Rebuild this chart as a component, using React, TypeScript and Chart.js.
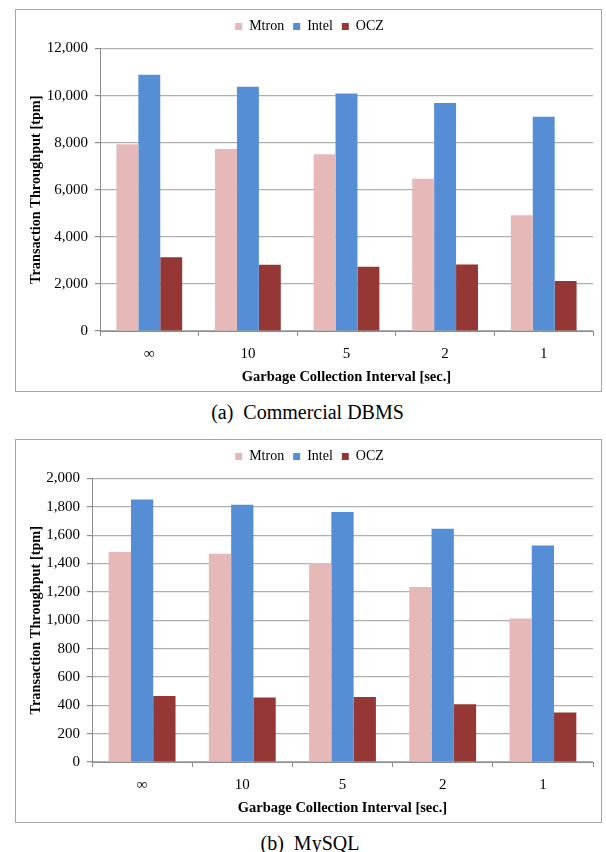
import React, { useEffect, useRef } from 'react';
import { Chart, registerables } from 'chart.js';

Chart.register(...registerables);

const FONT = '"Liberation Serif", "Times New Roman", serif';

const categories = ['∞', '10', '5', '2', '1'];
const seriesNames = ['Mtron', 'Intel', 'OCZ'];
const seriesColors = ['#E6B9B8', '#558ED5', '#953735'];

// (a) Commercial DBMS
const dbmsMtron = [7930, 7735, 7510, 6470, 4920];
const dbmsIntel = [10885, 10380, 10085, 9690, 9100];
const dbmsOcz = [3135, 2815, 2730, 2830, 2125];
const dbmsYMax = 12000;
const dbmsYStep = 2000;

// (b) MySQL
const mysqlMtron = [1481, 1469, 1404, 1235, 1012];
const mysqlIntel = [1852, 1815, 1763, 1645, 1528];
const mysqlOcz = [465, 455, 458, 408, 350];
const mysqlYMax = 2000;
const mysqlYStep = 200;

const xTitle = 'Garbage Collection Interval [sec.]';
const yTitle = 'Transaction Throughput [tpm]';

// adds a little space between the legend and the plot area, and nudges it right
const legendGap = {
  id: 'legendGap',
  beforeLayout(chart: any) {
    const lg = chart.legend;
    if (lg && !lg._gapPatched) {
      const origFit = lg.fit.bind(lg);
      lg.fit = function () {
        origFit();
        this.height += 5;
      };
      const origDraw = lg.draw.bind(lg);
      lg.draw = function () {
        const ctx = this.ctx;
        ctx.save();
        ctx.translate(5, 0);
        origDraw();
        ctx.restore();
      };
      lg._gapPatched = true;
    }
  },
};

type Props = {
  series: number[][];
  yMax: number;
  yStep: number;
  yWidth: number;
  width: number;
  height: number;
};

function BarChart({ series, yMax, yStep, yWidth, width, height }: Props) {
  const ref = useRef<HTMLCanvasElement | null>(null);
  useEffect(() => {
    if (!ref.current) return;
    const chart = new Chart(ref.current, {
      type: 'bar',
      data: {
        labels: categories,
        datasets: seriesNames.map((name, i) => ({
          label: name,
          data: series[i],
          backgroundColor: seriesColors[i],
          borderWidth: 0,
          categoryPercentage: 0.667,
          barPercentage: 1,
        })),
      },
      plugins: [legendGap],
      options: {
        responsive: false,
        animation: false,
        devicePixelRatio: 1,
        layout: { padding: { top: 0.5, left: 0, right: 8, bottom: 5 } },
        plugins: {
          legend: {
            position: 'top',
            labels: {
              boxWidth: 7,
              boxHeight: 7,
              padding: 9,
              color: '#000',
              font: { family: FONT, size: 14 },
            },
          },
          tooltip: { enabled: false },
        },
        scales: {
          x: {
            grid: {
              drawOnChartArea: false,
              offset: true,
              tickLength: 5,
              color: '#8C8C8C',
            },
            border: { color: '#8C8C8C' },
            ticks: { padding: 9, color: '#000', font: { family: FONT, size: 15 } },
            title: {
              display: true,
              text: xTitle,
              color: '#000',
              font: { family: FONT, size: 14.5, weight: 'bold' },
              padding: { top: 0, bottom: 0 },
            },
            afterFit: (s: any) => {
              s.height = 55;
            },
          },
          y: {
            min: 0,
            max: yMax,
            ticks: {
              stepSize: yStep,
              padding: 7,
              color: '#000',
              font: { family: FONT, size: 15 },
              callback: (v: any) => Number(v).toLocaleString('en-US'),
            },
            grid: {
              color: '#AFAFAF',
              tickColor: '#8C8C8C',
              tickLength: 5,
              lineWidth: 1.2,
            },
            border: { color: '#8C8C8C' },
            title: {
              display: true,
              text: yTitle,
              color: '#000',
              font: { family: FONT, size: 14.3, weight: 'bold' },
              padding: { top: 11.5, bottom: 0 },
            },
            afterFit: (s: any) => {
              s.width = yWidth;
            },
          },
        },
      } as any,
    });
    return () => chart.destroy();
  }, [series, yMax, yStep, yWidth]);
  return <canvas ref={ref} width={width} height={height} style={{ display: 'block' }} />;
}

const frameStyle = (top: number, h: number): React.CSSProperties => ({
  position: 'absolute',
  left: 15,
  top,
  width: 585,
  height: h,
  border: '1px solid #A6A6A6',
  background: '#fff',
});

const captionStyle = (top: number, cx: number): React.CSSProperties => ({
  position: 'absolute',
  left: cx - 200,
  top,
  width: 400,
  height: 23,
  lineHeight: '23px',
  textAlign: 'center',
  fontFamily: FONT,
  fontSize: 20,
  whiteSpace: 'pre',
  color: '#000',
});

const dbmsSeries = [dbmsMtron, dbmsIntel, dbmsOcz];
const mysqlSeries = [mysqlMtron, mysqlIntel, mysqlOcz];

export default function App() {
  return (
    <div style={{ position: 'absolute', left: 0, top: 0, width: 606, height: 852, background: '#fff' }}>
      <div style={frameStyle(9, 381)}>
        <BarChart series={dbmsSeries} yMax={dbmsYMax} yStep={dbmsYStep} yWidth={84} width={585} height={381} />
      </div>
      <div style={captionStyle(400.5, 307.5)}>{'(a)  Commercial DBMS'}</div>
      <div style={frameStyle(439, 382)}>
        <BarChart series={mysqlSeries} yMax={mysqlYMax} yStep={mysqlYStep} yWidth={76} width={585} height={382} />
      </div>
      <div style={captionStyle(831.5, 310)}>{'(b)  MySQL'}</div>
    </div>
  );
}
